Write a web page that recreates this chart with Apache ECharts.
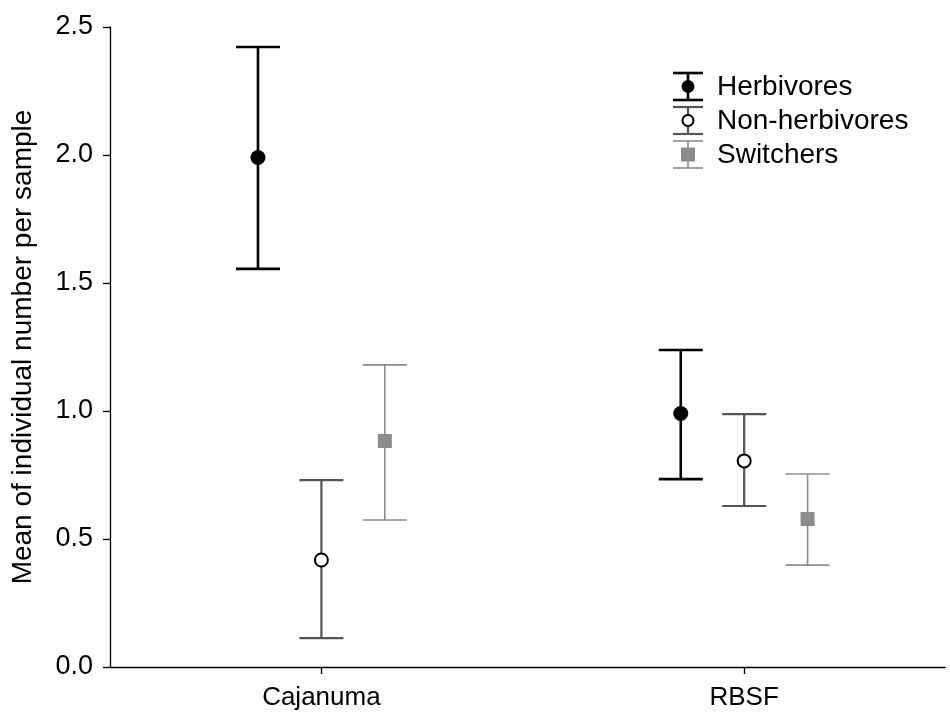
<!DOCTYPE html>
<html><head><meta charset="utf-8">
<script src="https://cdn.jsdelivr.net/npm/echarts@6/dist/echarts.min.js"></script>
<style>html,body{margin:0;padding:0;background:#fff}#c{width:950px;height:715px}</style>
</head><body><div id="c"></div>
<script>
const categories = ['Cajanuma', 'RBSF'];
const seriesNames = ['Herbivores', 'Non-herbivores', 'Switchers'];
const herbMean = [1.99, 0.99];
const herbLow = [1.555, 0.734];
const herbHigh = [2.422, 1.238];
const nonMean = [0.418, 0.805];
const nonLow = [0.113, 0.629];
const nonHigh = [0.730, 0.988];
const swMean = [0.883, 0.578];
const swLow = [0.574, 0.398];
const swHigh = [1.180, 0.754];
const yTicks = [0, 0.5, 1.0, 1.5, 2.0, 2.5];

const FONT = 'Liberation Sans, Arial, sans-serif';
const offsets = [-0.15, 0, 0.15];
const colors = ['#000000', '#555555', '#8c8c8c'];
const widths = [2.6, 2.2, 1.6];
const groups = [
  {mean: herbMean, low: herbLow, high: herbHigh, symbol: 'circle', fill: '#000', border: '#000'},
  {mean: nonMean, low: nonLow, high: nonHigh, symbol: 'circle', fill: '#fff', border: '#000'},
  {mean: swMean, low: swLow, high: swHigh, symbol: 'rect', fill: '#8c8c8c', border: '#8c8c8c'}
];

const series = [];
groups.forEach((g, si) => {
  const errData = categories.map((c, i) => [i + 1 + offsets[si], g.low[i], g.high[i]]);
  series.push({
    type: 'custom', name: seriesNames[si] + ' err', z: 2,
    data: errData,
    renderItem: function (params, api) {
      const x = api.value(0);
      const lo = api.coord([x, api.value(1)]);
      const hi = api.coord([x, api.value(2)]);
      const hw = 22;
      const st = {stroke: colors[si], lineWidth: widths[si]};
      return {type: 'group', children: [
        {type: 'line', shape: {x1: lo[0], y1: lo[1], x2: hi[0], y2: hi[1]}, style: st},
        {type: 'line', shape: {x1: lo[0] - hw, y1: lo[1], x2: lo[0] + hw, y2: lo[1]}, style: st},
        {type: 'line', shape: {x1: hi[0] - hw, y1: hi[1], x2: hi[0] + hw, y2: hi[1]}, style: st}
      ]};
    }
  });
  series.push({
    type: 'scatter', name: seriesNames[si], z: 5,
    symbol: g.symbol, symbolSize: si === 2 ? 14 : (si === 1 ? 13 : 15),
    itemStyle: {color: g.fill, borderColor: g.border, borderWidth: si === 1 ? 2 : 0, opacity: 1},
    data: categories.map((c, i) => [i + 1 + offsets[si], g.mean[i]])
  });
});

// legend drawn as graphics
const legendItems = [];
const legTop = [73, 107, 141];
seriesNames.forEach((n, si) => {
  const cx = 688, y1 = legTop[si], y2 = legTop[si] + 27, my = (y1 + y2) / 2;
  const st = {stroke: colors[si], lineWidth: widths[si]};
  legendItems.push({type: 'line', shape: {x1: cx, y1: y1, x2: cx, y2: y2}, style: st, z: 10});
  legendItems.push({type: 'line', shape: {x1: cx - 15, y1: y1, x2: cx + 15, y2: y1}, style: st, z: 10});
  legendItems.push({type: 'line', shape: {x1: cx - 15, y1: y2, x2: cx + 15, y2: y2}, style: st, z: 10});
  if (si === 2) {
    legendItems.push({type: 'rect', shape: {x: cx - 7, y: my - 7, width: 14, height: 14}, style: {fill: '#8c8c8c'}, z: 11});
  } else {
    legendItems.push({type: 'circle', shape: {cx: cx, cy: my, r: si === 0 ? 6.5 : 5.5},
      style: {fill: si === 0 ? '#000' : '#fff', stroke: '#000', lineWidth: si === 0 ? 0 : 2}, z: 11});
  }
  legendItems.push({type: 'text', x: 717, y: my + 1, z: 11,
    style: {text: n, font: '28px ' + FONT, fill: '#000', verticalAlign: 'middle', align: 'left'}});
});

const chart = echarts.init(document.getElementById('c'), null, {renderer: 'canvas'});
chart.setOption({
  animation: false,
  backgroundColor: '#fff',
  grid: {left: 110, right: 5, top: 27, bottom: 48, containLabel: false},
  xAxis: {
    type: 'value', min: 0.5, max: 2.475,
    splitLine: {show: false},
    axisLine: {show: true, onZero: false, lineStyle: {color: '#000', width: 1.3}},
    axisTick: {show: true, customValues: [1, 2], length: 7, inside: false, lineStyle: {color: '#000', width: 1.3}},
    axisLabel: {show: true, customValues: [1, 2], margin: 18, fontSize: 26, fontFamily: FONT, color: '#000',
      formatter: v => categories[Math.round(v) - 1] || ''}
  },
  yAxis: {
    type: 'value', min: 0, max: 2.5, interval: 0.5,
    name: 'Mean of individual number per sample', nameLocation: 'middle', nameGap: 73, nameRotate: 90,
    nameTextStyle: {fontSize: 28, fontFamily: FONT, color: '#000'},
    splitLine: {show: false},
    axisLine: {show: true, lineStyle: {color: '#000', width: 1.3}},
    axisTick: {show: true, length: 7, lineStyle: {color: '#000', width: 1.3}},
    axisLabel: {margin: 17, fontSize: 27, fontFamily: FONT, color: '#000', formatter: v => v.toFixed(1)}
  },
  series: series,
  graphic: legendItems
});
</script></body></html>
